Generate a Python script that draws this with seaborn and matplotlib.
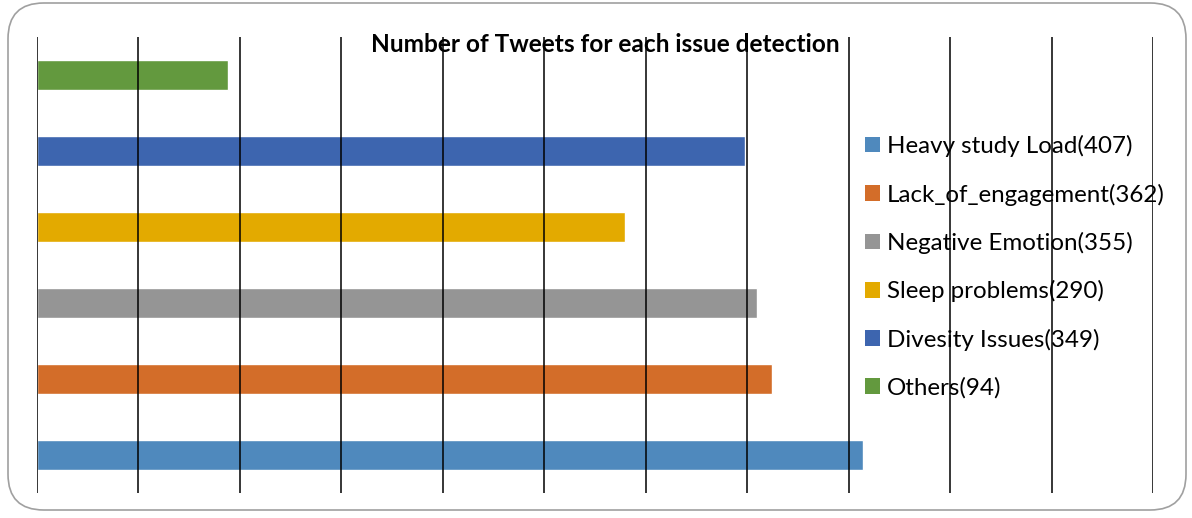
import matplotlib
matplotlib.use("Agg")
import matplotlib.pyplot as plt
from matplotlib.patches import FancyBboxPatch, Patch
import seaborn as sns
import pandas as pd

# Issue categories (top to bottom) and tweet counts
categories = ["Others", "Divesity Issues", "Sleep problems",
              "Negative Emotion", "Lack_of_engagement", "Heavy study Load"]
counts = [94, 349, 290, 355, 362, 407]
colors = ["#63993E", "#3D65AF", "#E3AA00", "#959595", "#D36D29", "#4F89BD"]
legend_labels = ["Heavy study Load(407)", "Lack_of_engagement(362)",
                 "Negative Emotion(355)", "Sleep problems(290)",
                 "Divesity Issues(349)", "Others(94)"]
title = "Number of Tweets for each issue detection"

df = pd.DataFrame({"category": categories, "count": counts})

sns.set_theme(style="white")
plt.rcParams["font.family"] = ["Lato", "DejaVu Sans"]
plt.rcParams["text.color"] = "black"

fig = plt.figure(figsize=(11.92, 5.18), dpi=100)
ax = fig.add_axes([37 / 1192, 1 - 493 / 518, (1153 - 37) / 1192, (493 - 37) / 518])

sns.barplot(data=df, x="count", y="category", hue="category",
            palette=dict(zip(categories, colors)), order=categories,
            hue_order=categories, dodge=False, legend=False,
            width=0.4, saturation=1, ax=ax)

ax.set_xlim(0, 550)
ax.set_xticks(range(0, 551, 50))
ax.grid(axis="x", color="black", linewidth=1.1)
ax.grid(axis="y", visible=False)
ax.set_axisbelow(False)
for b in ax.patches:
    b.set_zorder(0.5)
ax.set_xticklabels([])
ax.set_yticklabels([])
ax.tick_params(length=0)
ax.set_xlabel("")
ax.set_ylabel("")
for s in ax.spines.values():
    s.set_visible(False)

# Legend, largest category first
handles = [Patch(facecolor=c, edgecolor="none") for c in colors[::-1]]
fig.legend(handles, legend_labels, loc="upper left",
           bbox_to_anchor=(865 / 1192, 1 - 135 / 518), frameon=False,
           fontsize=17.4, handlelength=0.62, handleheight=0.62,
           handletextpad=0.3, labelspacing=1.09, borderaxespad=0,
           borderpad=0, labelcolor="black")

fig.text(605 / 1192, 1 - 45 / 518, title, ha="center", va="center",
         fontsize=17.6, fontweight="bold", color="black")

# Rounded outer frame
frame = FancyBboxPatch((8 / 1192, 8 / 518), (1186 - 8) / 1192, (515 - 8) / 518,
                       boxstyle="round,pad=0,rounding_size=0.03",
                       transform=fig.transFigure, facecolor="none",
                       edgecolor="#A0A0A0", linewidth=1.2, mutation_aspect=1192 / 518)
fig.patches.append(frame)

fig.savefig("out.png", dpi=100)
